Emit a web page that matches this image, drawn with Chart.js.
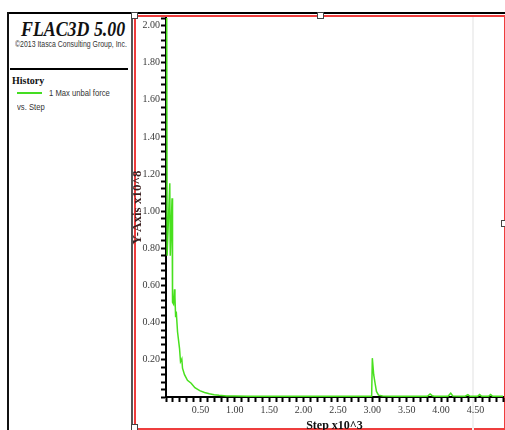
<!DOCTYPE html>
<html lang="en">
<head>
<meta charset="UTF-8">
<title>FLAC3D 5.00 - History</title>
<script src="https://cdn.jsdelivr.net/npm/chart.js"></script>
<style>
  body { margin: 0; background: #fff; }
  .stage { position: relative; width: 505px; height: 430px; overflow: hidden; background: #fff; }
  .stage > div, .stage > canvas { position: absolute; }
  #plot { left: 0; top: 0; }

  /* window chrome around the plot and the legend panel */
  .topline { left: 7px; top: 12px; width: 500px; height: 2px; background: #000; }
  .leftline { left: 7px; top: 12px; width: 2px; height: 420px; background: #111; }
  .panelline { left: 131px; top: 14px; width: 2px; height: 420px; background: #555; }
  .frame { left: 134px; top: 15px; width: 368px; height: 411px; border: 2px solid #ee3d3d; }
  .faint { left: 472px; top: 17px; width: 2px; height: 413px; background: #f0f0f0; }
  .rule { left: 10px; top: 68px; width: 118px; height: 2px; background: #000; }
  .handle { width: 5px; height: 5px; border: 1px solid #444; background: #fff; }

  .txt { white-space: nowrap; transform-origin: 0 50%; color: #111; }
  .brand { left: 21px; top: 19px; font: italic bold 21px/21px "Liberation Serif", serif; transform: scaleX(0.85); }
  .copy { left: 15px; top: 40px; font: 9px/9px "Liberation Sans", sans-serif; transform: scaleX(0.77); color: #333; }
  .hist { left: 12px; top: 76px; font: bold 10px/10px "Liberation Serif", serif; }
  .swatch { left: 17px; top: 92px; width: 25px; height: 2px; background: #44dd22; }
  .series { left: 49px; top: 89px; font: 9px/9px "Liberation Sans", sans-serif; transform: scaleX(0.85); color: #333; }
  .vs { left: 17px; top: 103px; font: 9px/9px "Liberation Sans", sans-serif; transform: scaleX(0.85); color: #333; }
</style>
</head>
<body>
<div class="stage">
  <div class="frame"></div>
  <div class="faint"></div>
  <div class="topline"></div>
  <div class="leftline"></div>
  <div class="panelline"></div>
  <div class="rule"></div>
  <div class="handle" style="left:131px; top:12px;"></div>
  <div class="handle" style="left:317px; top:12px;"></div>
  <div class="handle" style="left:501px; top:220px;"></div>
  <div class="handle" style="left:131px; top:424px;"></div>

  <div class="txt brand">FLAC3D 5.00</div>
  <div class="txt copy">©2013 Itasca Consulting Group, Inc.</div>
  <div class="txt hist">History</div>
  <div class="swatch"></div>
  <div class="txt series">1 Max unbal force</div>
  <div class="txt vs">vs. Step</div>

  <canvas id="plot" width="505" height="430"></canvas>
</div>

<script>
// history samples: step (x10^3) against max unbalanced force (x10^8)
const steps = [
  0.008, 0.016, 0.055, 0.062, 0.088, 0.095, 0.11, 0.124, 0.13, 0.14,
  0.149, 0.168, 0.197, 0.211, 0.23, 0.24, 0.269, 0.312, 0.366, 0.42,
  0.49, 0.56, 0.63, 0.7, 0.77, 0.88, 1.0, 1.2, 1.6, 2.0,
  2.4, 2.8, 2.99, 3.0, 3.02, 3.04, 3.06, 3.09, 3.15, 3.3,
  3.6, 3.8, 3.84, 3.87, 3.9, 4.1, 4.14, 4.17, 4.35, 4.39,
  4.42, 4.53, 4.56, 4.59, 4.69, 4.72, 4.75, 4.9
];
const unbalForce = [
  2.6, 0.76, 1.15, 0.76, 1.07, 0.51, 0.50, 0.58, 0.54, 0.43,
  0.46, 0.35, 0.26, 0.19, 0.205, 0.155, 0.12, 0.09, 0.074, 0.05,
  0.034, 0.024, 0.017, 0.012, 0.009, 0.006, 0.005, 0.004, 0.004, 0.004,
  0.004, 0.004, 0.004, 0.209, 0.12, 0.074, 0.03, 0.01, 0.005, 0.004,
  0.004, 0.004, 0.016, 0.007, 0.004, 0.004, 0.02, 0.005, 0.004, 0.013,
  0.004, 0.004, 0.013, 0.004, 0.004, 0.013, 0.004, 0.004
];

// axis ranges and tick spacing (minor ticks, labelled majors)
const xRange = [0, 4.9];
const yRange = [0, 2.04];
const xMinor = 0.1, xMajor = 0.5;
const yMinor = 0.04, yMajor = 0.2;

function majorLabel(v, major) {
  const n = Math.round(v * 100);
  const m = Math.round(major * 100);
  return (n > 0 && n % m === 0) ? v.toFixed(2) : '';
}

const tickFont = { family: 'Liberation Serif', size: 10 };

new Chart(document.getElementById('plot'), {
  type: 'line',
  data: {
    datasets: [{
      label: '1 Max unbal force',
      data: steps.map((s, i) => ({ x: s, y: unbalForce[i] })),
      borderColor: '#48e01e',
      borderWidth: 1.5,
      pointRadius: 0,
      tension: 0,
      fill: false
    }]
  },
  options: {
    responsive: false,
    animation: false,
    layout: { padding: { left: 130, top: 18, right: 0, bottom: 0 } },
    plugins: { legend: { display: false }, tooltip: { enabled: false } },
    scales: {
      x: {
        type: 'linear',
        min: xRange[0], max: xRange[1],
        border: { color: '#000', width: 2 },
        grid: { drawOnChartArea: false, tickLength: 5, tickColor: '#000', tickWidth: 2 },
        ticks: {
          stepSize: xMinor, autoSkip: false, maxRotation: 0, padding: 2,
          color: '#3a3a3a', font: tickFont,
          callback: v => majorLabel(v, xMajor)
        },
        title: {
          display: true, text: 'Step x10^3', color: '#111',
          font: { family: 'Liberation Serif', size: 12, weight: 'bold' },
          padding: { top: 0, bottom: -3 }
        },
        afterFit: s => { s.height = 33; }
      },
      y: {
        type: 'linear',
        min: yRange[0], max: yRange[1],
        border: { color: '#000', width: 2 },
        grid: { drawOnChartArea: false, tickLength: 5, tickColor: '#000', tickWidth: 2 },
        ticks: {
          stepSize: yMinor, autoSkip: false, padding: 1,
          color: '#3a3a3a', font: tickFont,
          callback: v => majorLabel(v, yMajor)
        },
        title: {
          display: true, text: 'Y-Axis x10^8', color: '#3a1f1f',
          font: { family: 'Liberation Serif', size: 13, weight: 'bold' },
          padding: { top: 0, bottom: 0 }
        },
        afterFit: s => { s.width = 36; }
      }
    }
  }
});
</script>
</body>
</html>
